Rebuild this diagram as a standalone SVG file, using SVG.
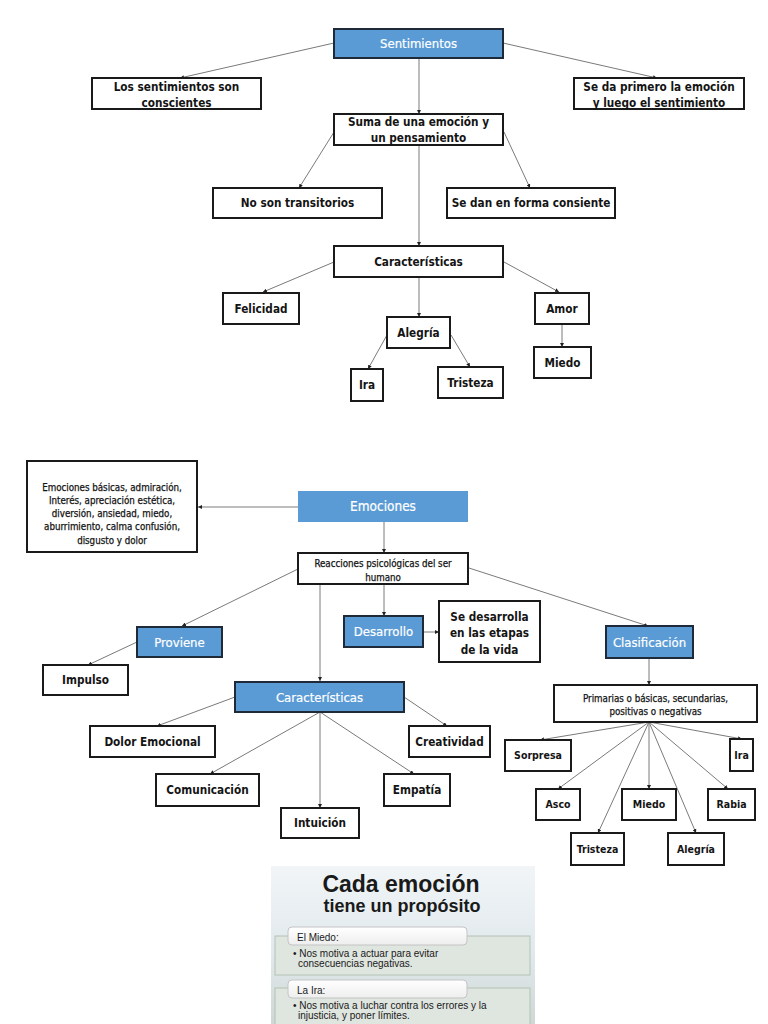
<svg xmlns="http://www.w3.org/2000/svg" width="768" height="1024" viewBox="0 0 768 1024">
<defs>
<style>
.box{fill:#ffffff;stroke:#1a1a1a;stroke-width:2}
.blue{fill:#5b9bd5;stroke:#1e2a38;stroke-width:2}
.blue0{fill:#5b9bd5}
.t{font-family:"DejaVu Sans Condensed","Liberation Sans",sans-serif;font-size:11.7px;font-weight:bold;fill:#141414;text-anchor:middle}
.w{fill:#ffffff;font-weight:normal;font-size:13px;stroke:#ffffff;stroke-width:0.2}
.n{font-weight:normal;stroke:#141414;stroke-width:0.25}
.s10{font-size:9.7px}
.s11{font-size:10.5px}
.s14{font-size:11.7px}
.c line{stroke:#7a7a7a;stroke-width:1;marker-end:url(#ah)}
.img{font-family:"Liberation Sans",Arial,sans-serif;fill:#1a1a1a}
</style>
<marker id="ah" viewBox="0 0 10 10" refX="10" refY="5" markerWidth="4" markerHeight="4" markerUnits="userSpaceOnUse" orient="auto">
<path d="M0,0 L10,5 L0,10 z" fill="#222"/>
</marker>
<linearGradient id="bg" x1="0" y1="0" x2="0" y2="1">
<stop offset="0" stop-color="#f1f5f7"/>
<stop offset="0.55" stop-color="#e1e9ed"/>
<stop offset="1" stop-color="#cfd8d4"/>
</linearGradient>
<linearGradient id="tab" x1="0" y1="0" x2="0" y2="1">
<stop offset="0" stop-color="#ffffff"/>
<stop offset="1" stop-color="#eeeeee"/>
</linearGradient>
</defs>
<rect width="768" height="1024" fill="#ffffff"/>

<g id="connectors" class="c">
<line x1="334" y1="43" x2="180" y2="78"/>
<line x1="503" y1="43" x2="657" y2="78"/>
<line x1="419" y1="58" x2="419" y2="114"/>
<line x1="334" y1="132" x2="299" y2="188"/>
<line x1="504" y1="132" x2="530" y2="188"/>
<line x1="419" y1="145" x2="419" y2="246"/>
<line x1="334" y1="262" x2="263" y2="292"/>
<line x1="504" y1="262" x2="559" y2="292"/>
<line x1="419" y1="277" x2="419" y2="317"/>
<line x1="387" y1="335" x2="368" y2="369"/>
<line x1="451" y1="335" x2="470" y2="367"/>
<line x1="562" y1="324" x2="562" y2="347"/>
<line x1="298" y1="507" x2="198" y2="507"/>
<line x1="384" y1="522" x2="384" y2="553"/>
<line x1="298" y1="569" x2="182" y2="626"/>
<line x1="137" y1="642" x2="88" y2="665"/>
<line x1="384" y1="584" x2="384" y2="616"/>
<line x1="423" y1="632" x2="439" y2="632"/>
<line x1="320" y1="584" x2="320" y2="681"/>
<line x1="469" y1="568" x2="648" y2="626"/>
<line x1="235" y1="697" x2="157" y2="726"/>
<line x1="320" y1="712" x2="210" y2="774"/>
<line x1="320" y1="712" x2="320" y2="808"/>
<line x1="320" y1="712" x2="414" y2="774"/>
<line x1="404" y1="697" x2="447" y2="726"/>
<line x1="649" y1="658" x2="649" y2="685"/>
<line x1="649" y1="722" x2="540" y2="740"/>
<line x1="649" y1="722" x2="742" y2="739"/>
<line x1="649" y1="722" x2="558" y2="789"/>
<line x1="649" y1="722" x2="649" y2="789"/>
<line x1="649" y1="722" x2="728" y2="789"/>
<line x1="649" y1="722" x2="598" y2="833"/>
<line x1="649" y1="722" x2="696" y2="833"/>
</g>

<g id="sentimientos"><rect class="blue" x="334" y="29" width="169" height="29"/><text class="t w" x="418.5" y="48">Sentimientos</text></g>
<g id="conscientes"><rect class="box" x="92" y="78" width="169" height="31"/><text class="t" x="176.5" y="91">Los sentimientos son</text><text class="t" x="176.5" y="107">conscientes</text></g>
<g id="primero"><rect class="box" x="574" y="78" width="170" height="31"/><text class="t" x="659" y="91">Se da primero la emoción</text><text class="t" x="659" y="107">y luego el sentimiento</text></g>
<g id="suma"><rect class="box" x="334" y="114" width="169" height="31"/><text class="t" x="418.5" y="126">Suma de una emoción y</text><text class="t" x="418.5" y="142">un pensamiento</text></g>
<g id="no-transitorios"><rect class="box" x="213" y="188" width="169" height="30"/><text class="t" x="297.5" y="207">No son transitorios</text></g>
<g id="consiente"><rect class="box" x="447" y="188" width="168" height="30"/><text class="t" x="531" y="207">Se dan en forma consiente</text></g>
<g id="caracteristicas-1"><rect class="box" x="334" y="246" width="169" height="31"/><text class="t" x="418.5" y="265.5">Características</text></g>
<g id="felicidad"><rect class="box" x="223" y="293" width="76" height="31"/><text class="t" x="261" y="312.5">Felicidad</text></g>
<g id="alegria-1"><rect class="box" x="387" y="317" width="63" height="31"/><text class="t" x="418.5" y="336.5">Alegría</text></g>
<g id="amor"><rect class="box" x="535" y="293" width="54" height="31"/><text class="t" x="562" y="312.5">Amor</text></g>
<g id="miedo-1"><rect class="box" x="534" y="347" width="57" height="31"/><text class="t" x="562.5" y="366.5">Miedo</text></g>
<g id="ira-1"><rect class="box" x="351" y="369" width="32" height="32"/><text class="t" x="367" y="389">Ira</text></g>
<g id="tristeza-1"><rect class="box" x="438" y="367" width="65" height="31"/><text class="t" x="470.5" y="386.5">Tristeza</text></g>

<g id="lista"><rect class="box" x="27" y="461" width="170" height="91"/>
<text class="t n s10" x="112" y="490.5">Emociones básicas, admiración,</text>
<text class="t n s10" x="112" y="503.8">Interés, apreciación estética,</text>
<text class="t n s10" x="112" y="517">diversión, ansiedad, miedo,</text>
<text class="t n s10" x="112" y="530.4">aburrimiento, calma confusión,</text>
<text class="t n s10" x="112" y="543.7">disgusto y dolor</text></g>
<g id="emociones"><rect class="blue0" x="298" y="491" width="170" height="31"/><text class="t w" x="383" y="511" style="font-size:13.5px">Emociones</text></g>
<g id="reacciones"><rect class="box" x="298" y="553" width="170" height="31"/><text class="t n s10" x="383" y="566.5">Reacciones psicológicas del ser</text><text class="t n s10" x="383" y="580.5">humano</text></g>
<g id="proviene"><rect class="blue" x="137" y="627" width="85" height="30"/><text class="t w" x="179.5" y="646.5">Proviene</text></g>
<g id="impulso"><rect class="box" x="43" y="665" width="85" height="30"/><text class="t" x="85.5" y="684">Impulso</text></g>
<g id="desarrollo"><rect class="blue" x="344" y="616" width="79" height="31"/><text class="t w" x="383.5" y="636">Desarrollo</text></g>
<g id="etapas"><rect class="box" x="439" y="601" width="101" height="61"/><text class="t s14" x="489.5" y="620.5">Se desarrolla</text><text class="t s14" x="489.5" y="637">en las etapas</text><text class="t s14" x="489.5" y="653.5">de la vida</text></g>
<g id="caracteristicas-2"><rect class="blue" x="235" y="682" width="169" height="30"/><text class="t w" x="319.5" y="701.5">Características</text></g>
<g id="dolor"><rect class="box" x="90" y="726" width="125" height="31"/><text class="t" x="152.5" y="745.5">Dolor Emocional</text></g>
<g id="creatividad"><rect class="box" x="409" y="726" width="81" height="31"/><text class="t" x="449.5" y="745.5">Creatividad</text></g>
<g id="comunicacion"><rect class="box" x="156" y="774" width="103" height="32"/><text class="t" x="207.5" y="794">Comunicación</text></g>
<g id="empatia"><rect class="box" x="384" y="774" width="66" height="32"/><text class="t" x="417" y="794">Empatía</text></g>
<g id="intuicion"><rect class="box" x="281" y="808" width="78" height="30"/><text class="t" x="320" y="827">Intuición</text></g>
<g id="clasificacion"><rect class="blue" x="606" y="626" width="87" height="32"/><text class="t w" x="649.5" y="646.5">Clasificación</text></g>
<g id="primarias"><rect class="box" x="554" y="685" width="203" height="37"/><text class="t n s10" x="655.5" y="701.5">Primarias o básicas, secundarias,</text><text class="t n s10" x="655.5" y="714.5">positivas o negativas</text></g>
<g id="sorpresa"><rect class="box" x="505" y="740" width="66" height="31"/><text class="t s11" x="538" y="759">Sorpresa</text></g>
<g id="ira-2"><rect class="box" x="730" y="739" width="23" height="32"/><text class="t s11" x="741.5" y="759">Ira</text></g>
<g id="asco"><rect class="box" x="536" y="789" width="44" height="31"/><text class="t s11" x="558" y="808">Asco</text></g>
<g id="miedo-2"><rect class="box" x="622" y="789" width="54" height="31"/><text class="t s11" x="649" y="808">Miedo</text></g>
<g id="rabia"><rect class="box" x="708" y="789" width="47" height="31"/><text class="t s11" x="731.5" y="808">Rabia</text></g>
<g id="tristeza-2"><rect class="box" x="571" y="833" width="53" height="32"/><text class="t s11" x="597.5" y="852.5">Tristeza</text></g>
<g id="alegria-2"><rect class="box" x="668" y="833" width="56" height="32"/><text class="t s11" x="696" y="852.5">Alegría</text></g>

<g id="proposito">
<rect x="271" y="866" width="264" height="158" fill="url(#bg)"/>
<text class="img" x="401" y="892" font-size="23" font-weight="bold" text-anchor="middle">Cada emoción</text>
<text class="img" x="402" y="912" font-size="18" font-weight="bold" text-anchor="middle">tiene un propósito</text>
<rect x="275" y="936" width="255" height="39" fill="#dfe5df" stroke="#b5c2b5" stroke-width="1"/>
<rect x="288" y="927" width="179" height="18" rx="4" fill="url(#tab)" stroke="#c4c4c4" stroke-width="1"/>
<text class="img" x="297" y="940.5" font-size="10">El Miedo:</text>
<text class="img" x="293" y="957" font-size="10">• Nos motiva a actuar para evitar</text>
<text class="img" x="298" y="966.5" font-size="10">consecuencias negativas.</text>
<rect x="275" y="988" width="255" height="40" fill="#dfe5df" stroke="#b5c2b5" stroke-width="1"/>
<rect x="288" y="980" width="179" height="18" rx="4" fill="url(#tab)" stroke="#c4c4c4" stroke-width="1"/>
<text class="img" x="297" y="993.5" font-size="10">La Ira:</text>
<text class="img" x="293" y="1009" font-size="10">• Nos motiva a luchar contra los errores y la</text>
<text class="img" x="298" y="1018.5" font-size="10">injusticia, y poner límites.</text>
</g>
</svg>
